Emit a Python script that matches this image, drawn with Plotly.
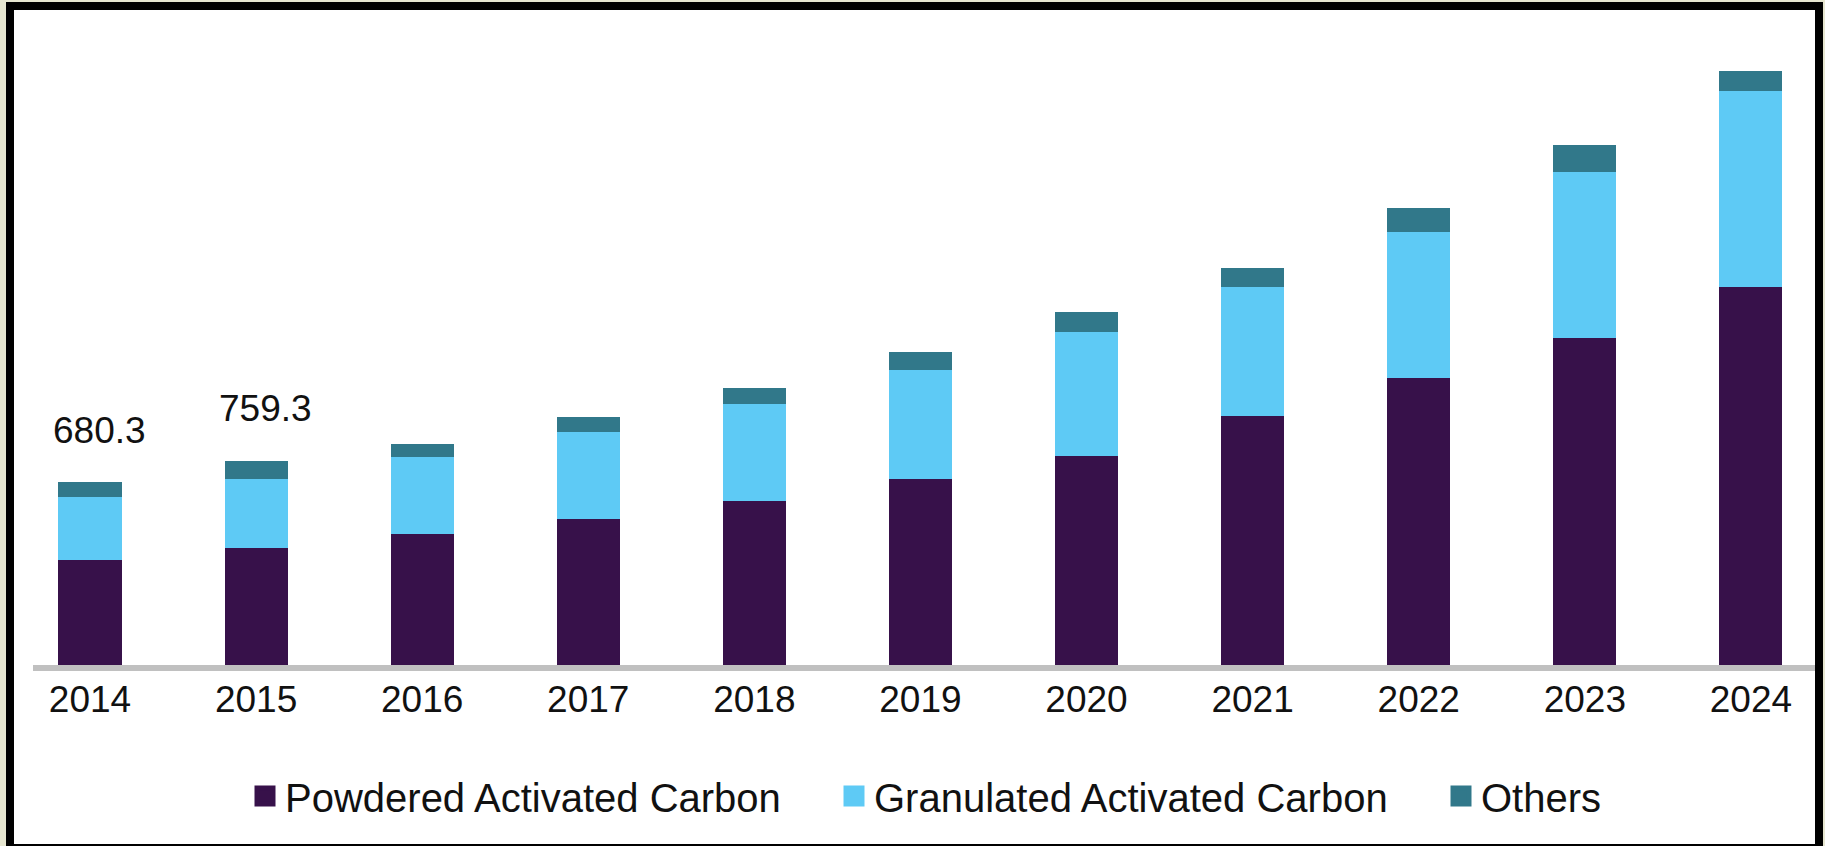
import plotly.graph_objects as go

years = ["2014", "2015", "2016", "2017", "2018", "2019", "2020", "2021", "2022", "2023", "2024"]
powdered = [392.0, 435.0, 487.0, 543.0, 610.0, 692.0, 778.6, 927.4, 1066.5, 1215.3, 1406.0]
granulated = [234.0, 258.5, 286.0, 322.5, 361.0, 405.5, 459.0, 478.8, 545.4, 619.8, 729.0]
others = [54.3, 65.8, 48.4, 57.0, 60.6, 68.0, 76.6, 69.6, 88.2, 100.4, 74.4]
labelled_years = ["2014", "2015"]
labelled_totals = ["680.3", "759.3"]

series_names = ["Powdered Activated Carbon", "Granulated Activated Carbon", "Others"]
series_colors = ["#37114a", "#5ecaf5", "#31788a"]
legend_widths = [544, 562, 200]

W, H = 1825, 846
L, R, T, B = 33, 10, 14, 181
pw, ph = W - L - R, H - T - B
FONT = "Arial, 'Liberation Sans', sans-serif"

fig = go.Figure()
for name, vals, col in zip(series_names, [powdered, granulated, others], series_colors):
    fig.add_trace(go.Bar(x=years, y=vals, name=name, marker=dict(color=col, line=dict(width=0)),
                         width=0.38, showlegend=False))
for name, col, lw in zip(series_names, series_colors, legend_widths):
    fig.add_trace(go.Scatter(x=[None], y=[None], mode="markers", name=name,
                             marker=dict(symbol="square", size=16, color=col, line=dict(color=col, width=5)),
                             legendwidth=lw, showlegend=True))

totals = [p + g + o for p, g, o in zip(powdered, granulated, others)]
for yr, txt in zip(labelled_years, labelled_totals):
    i = years.index(yr)
    fig.add_annotation(x=i, y=totals[i], text=txt, showarrow=False, xshift=9, yshift=52,
                       yanchor="middle", font=dict(family=FONT, size=37, color="#111111"))

def px_x(p):
    return (p - L) / pw

def px_y(p):
    return (H - B - p) / ph

fig.add_shape(type="rect", xref="paper", yref="paper", x0=px_x(10), x1=px_x(1819), y0=px_y(848), y1=px_y(6),
              line=dict(color="black", width=8), fillcolor="white", layer="below")

fig.update_layout(
    width=W, height=H,
    margin=dict(l=L, r=R, t=T, b=B, pad=0),
    paper_bgcolor="#e6e6d0",
    plot_bgcolor="rgba(0,0,0,0)",
    barmode="stack",
    font=dict(family=FONT, color="#111111"),
    showlegend=True,
    legend=dict(orientation="h", x=px_x(245), xanchor="left", y=px_y(796), yanchor="middle",
                font=dict(family=FONT, size=40, color="#111111"), bgcolor="rgba(0,0,0,0)",
                itemsizing="trace", traceorder="normal"),
    xaxis=dict(type="category", range=[-0.3432, 10.386], showline=True, linecolor="#c0c0c0", linewidth=6,
               layer="below traces", showgrid=False, zeroline=False, ticks="", ticklen=0,
               ticklabelstandoff=-3,
               tickfont=dict(family=FONT, size=37, color="#111111"), fixedrange=True),
    yaxis=dict(range=[0, ph * 3.72], visible=False, showgrid=False, zeroline=False, fixedrange=True),
)

fig.write_html("out.html", config={"displayModeBar": False},
               post_script="document.body.style.margin='0';document.body.style.overflow='hidden';")
